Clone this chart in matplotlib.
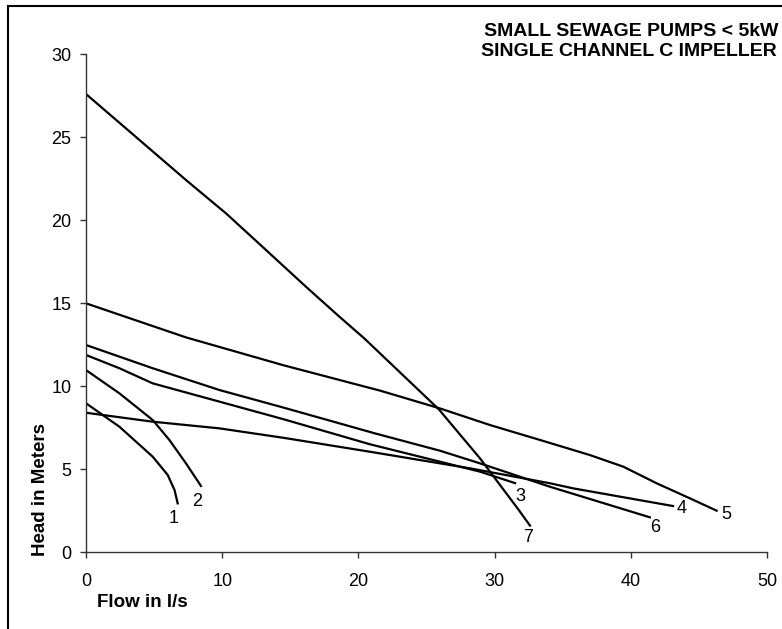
"""Pump curves for small sewage pumps."""
import matplotlib
matplotlib.use("Agg")
import matplotlib.pyplot as plt
from matplotlib.patches import Rectangle

plt.rcParams["font.family"] = ["Liberation Sans", "DejaVu Sans"]

# flow (l/s) and head (m)
flow_1 = [0, 2.45, 4.9, 6.0, 6.5, 6.73]
head_1 = [8.96, 7.55, 5.74, 4.64, 3.73, 2.93]
flow_2 = [0, 2.45, 4.9, 6.12, 7.34, 8.44]
head_2 = [10.96, 9.56, 7.95, 6.75, 5.34, 3.98]
flow_3 = [0, 2.45, 4.9, 9.79, 14.5, 20.85, 28.93, 31.5]
head_3 = [11.87, 11.07, 10.16, 9.06, 8.0, 6.49, 4.84, 4.15]
flow_4 = [0, 4.9, 9.79, 14.5, 20.85, 28.2, 34.07, 35.8, 43.1]
head_4 = [8.39, 7.85, 7.45, 6.88, 6.04, 5.04, 4.14, 3.83, 2.77]
flow_5 = [0, 7.34, 14.5, 21.6, 25.99, 29.66, 33.33, 37.0, 39.45, 41.9, 44.35, 46.3]
head_5 = [14.98, 12.93, 11.25, 9.72, 8.65, 7.65, 6.75, 5.84, 5.14, 4.14, 3.23, 2.49]
flow_6 = [0, 4.9, 9.79, 14.5, 21.2, 26.0, 28.93, 34.07, 41.4]
head_6 = [12.47, 11.07, 9.76, 8.7, 7.15, 6.1, 5.34, 3.93, 2.09]
flow_7 = [0, 3.67, 7.34, 10.28, 13.22, 16.15, 18.6, 20.43, 25.9, 28.93, 31.74, 32.6]
head_7 = [27.59, 25.0, 22.41, 20.4, 18.19, 15.98, 14.18, 12.87, 8.6, 5.64, 2.57, 1.59]

curves = [(flow_1, head_1), (flow_2, head_2), (flow_3, head_3), (flow_4, head_4),
          (flow_5, head_5), (flow_6, head_6), (flow_7, head_7)]

labels = ["1", "2", "3", "4", "5", "6", "7"]
label_x = [6.4, 8.13, 31.87, 43.74, 47.04, 41.78, 32.45]
label_y = [2.03, 3.03, 3.37, 2.63, 2.23, 1.45, 0.9]

fig = plt.figure(figsize=(7.82, 6.29), dpi=100)
ax = fig.add_axes([0.110, 0.1224, 0.8708, 0.7917])

for fx, hy in curves:
    ax.plot(fx, hy, color="black", lw=1.6, solid_joinstyle="round")
for lab, lx, ly in zip(labels, label_x, label_y):
    ax.text(lx, ly, lab, ha="center", va="center", fontsize=13)

ax.set_xlim(0, 50)
ax.set_ylim(0, 30)
ax.set_xticks(range(0, 51, 10))
ax.set_yticks(range(0, 31, 5))
ax.spines["top"].set_visible(False)
ax.spines["right"].set_visible(False)
for s in ("left", "bottom"):
    ax.spines[s].set_linewidth(1.0)
    ax.spines[s].set_color("#333333")
ax.tick_params(axis="x", direction="out", length=4, width=1, pad=11,
               labelsize=13, color="#333333")
ax.tick_params(axis="y", direction="out", length=4.5, width=1, pad=6,
               labelsize=13, color="#333333")

fig.text(96.7 / 782, 1 - 602.7 / 629, "Flow in l/s", fontsize=13.5,
         fontweight="bold", ha="left", va="center")
fig.text(40.7 / 782, 1 - 489 / 629, "Head in Meters", fontsize=13.5,
         fontweight="bold", rotation=90, ha="center", va="center")
fig.text(778 / 782, 1 - 32 / 629, "SMALL SEWAGE PUMPS < 5kW", fontsize=14,
         fontweight="bold", ha="right", va="center")
fig.text(777 / 782, 1 - 51 / 629, "SINGLE CHANNEL C IMPELLER", fontsize=14,
         fontweight="bold", ha="right", va="center")

# outer frame, only its left and top edges fall inside the picture
fig.patches.append(Rectangle((8 / 782, -0.1), 1.2, 1.1 - 6 / 629,
                             transform=fig.transFigure, fill=False,
                             edgecolor="black", lw=1.5))

fig.savefig("out.png", dpi=100)
plt.close(fig)
